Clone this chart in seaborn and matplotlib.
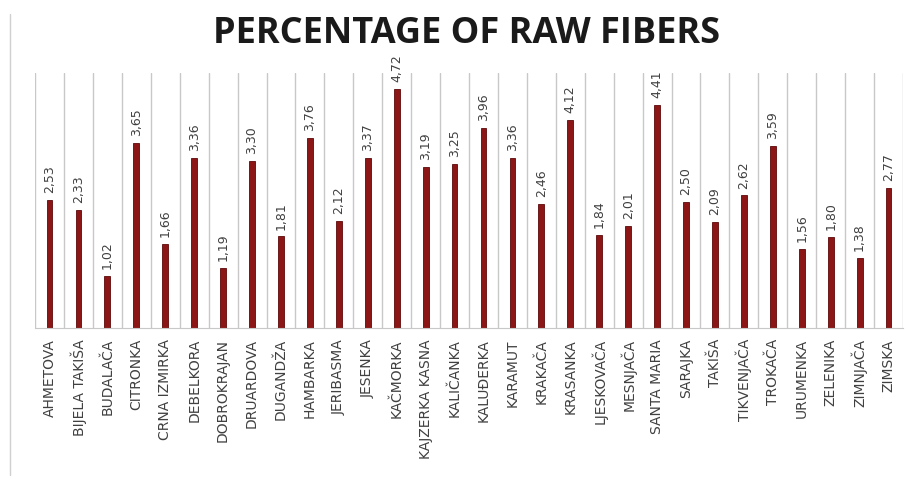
import numpy as np
import pandas as pd
import matplotlib.pyplot as plt
import seaborn as sns
from matplotlib.lines import Line2D

varieties = ["AHMETOVA", "BIJELA TAKIŠA", "BUDALAČA", "CITRONKA", "CRNA IZMIRKA",
             "DEBELKORA", "DOBROKRAJAN", "DRUARDOVA", "DUGANDŽA", "HAMBARKA",
             "JERIBASMA", "JESENKA", "KAČMORKA", "KAJZERKA KASNA", "KALIČANKA",
             "KALUĐERKA", "KARAMUT", "KRAKAČA", "KRASANKA", "LJESKOVAČA",
             "MESNJAČA", "SANTA MARIA", "SARAJKA", "TAKIŠA", "TIKVENJAČA",
             "TROKAČA", "URUMENKA", "ZELENIKA", "ZIMNJAČA", "ZIMSKA"]
raw_fibers = [2.53, 2.33, 1.02, 3.65, 1.66, 3.36, 1.19, 3.30, 1.81, 3.76,
              2.12, 3.37, 4.72, 3.19, 3.25, 3.96, 3.36, 2.46, 4.12, 1.84,
              2.01, 4.41, 2.50, 2.09, 2.62, 3.59, 1.56, 1.80, 1.38, 2.77]

df = pd.DataFrame({"variety": varieties, "fibers": raw_fibers})

sns.set_style("white")
plt.rcParams['font.family'] = ['DejaVu Sans']

fig = plt.figure(figsize=(9.15, 4.8), dpi=100)
ax = fig.add_axes([0.0383, 0.3167, 0.9486, 0.531])

sns.barplot(data=df, x="variety", y="fibers", color="#8c1616", width=0.2,
            edgecolor="#5c0808", linewidth=0.6, saturation=1, ax=ax)

labels = [f"{v:.2f}".replace(".", ",") for v in raw_fibers]
ax.bar_label(ax.containers[0], labels=labels, rotation=90, padding=5,
             fontsize=9, color="#404040")

ax.set_ylim(0, 5.04)
ax.set_xlim(-0.5, len(varieties) - 0.5)
ax.set_yticks([])
ax.set_xlabel("")
ax.set_ylabel("")
ax.set_xticks(range(len(varieties)))
ax.set_xticklabels(varieties, rotation=90, fontsize=10, color="#404040")
ax.tick_params(axis="x", length=0, pad=8)

ax.set_xticks(np.arange(-0.5, len(varieties)), minor=True)
ax.tick_params(axis="x", which="minor", length=0)
ax.grid(True, which="minor", axis="x", color="#c8c8c8", linewidth=1)
ax.grid(False, which="major")

for s in ["top", "right", "left"]:
    ax.spines[s].set_visible(False)
ax.spines["bottom"].set_color("#c8c8c8")

fig.text(0.51, 0.93, "PERCENTAGE OF RAW FIBERS", ha="center", va="center",
         fontsize=26, fontweight="bold", color="#1a1a1a", family="Open Sans")

fig.add_artist(Line2D([0.011, 0.011], [0.01, 0.97], color="#d0d0d0", linewidth=1))

plt.savefig("out.png")
